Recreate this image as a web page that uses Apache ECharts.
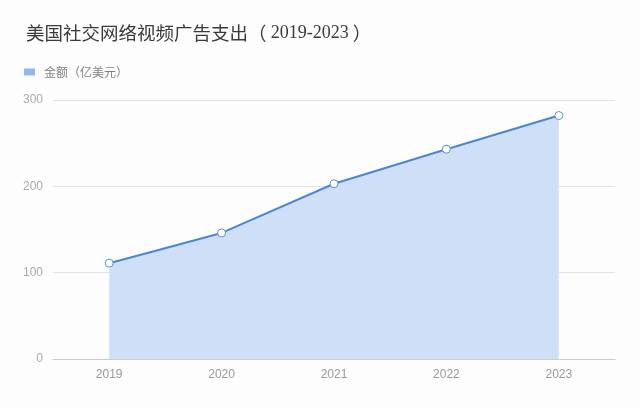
<!DOCTYPE html>
<html>
<head>
<meta charset="utf-8">
<script src="https://cdn.jsdelivr.net/npm/echarts@6/dist/echarts.min.js"></script>
<style>
  html, body { margin: 0; padding: 0; background: #fdfdfe; }
  #main { width: 640px; height: 408px; }
</style>
</head>
<body>
<div id="main"></div>
<script>
// 年份
const years = ['2019', '2020', '2021', '2022', '2023'];
// 金额（亿美元）
const spend = [111, 146, 203, 243, 282];
const seriesName = '金额（亿美元）';

const chart = echarts.init(document.getElementById('main'));

chart.setOption({
  backgroundColor: '#fdfdfe',
  title: {
    text: '{a|美国社交网络视频广告支出}{a|（ }{b|2019-2023}{a| ）}',
    left: 21,
    top: 19,
    textStyle: {
      fontWeight: 'normal',
      rich: {
        a: { fontFamily: 'Noto Sans CJK SC', fontSize: 18.5, fontWeight: 'normal', color: '#3a3a3a' },
        b: { fontFamily: 'Liberation Serif', fontSize: 18, fontWeight: 'normal', color: '#3a3a3a' }
      }
    }
  },
  legend: {
    left: 19,
    top: 61,
    itemWidth: 11,
    itemHeight: 7,
    itemGap: 8,
    icon: 'rect',
    itemStyle: { color: '#93b6ee', borderWidth: 0 },
    textStyle: { color: '#808080', fontSize: 12, fontFamily: 'Noto Sans CJK SC', padding: [0, 0, 0, 4] },
    data: [seriesName]
  },
  grid: { left: 53, right: 25, top: 100, bottom: 49 },
  xAxis: {
    type: 'category',
    data: years,
    boundaryGap: true,
    axisLine: { lineStyle: { color: '#ccc' } },
    axisTick: { alignWithLabel: true, length: 4, lineStyle: { color: '#ccc' } },
    axisLabel: { color: '#999', fontSize: 12, margin: 10 }
  },
  yAxis: {
    type: 'value',
    min: 0,
    max: 300,
    interval: 100,
    axisLine: { show: false },
    axisTick: { show: false },
    axisLabel: { color: '#aaa', fontSize: 12, margin: 10 },
    splitLine: { lineStyle: { color: '#e2e2e2' } }
  },
  series: [{
    name: seriesName,
    type: 'line',
    data: spend,
    symbol: 'circle',
    symbolSize: 8,
    itemStyle: { color: '#fff', borderColor: '#5b8fd6', borderWidth: 1 },
    lineStyle: { color: '#4a86d6', width: 2 },
    areaStyle: { color: '#d0dff8', opacity: 1 }
  }]
});
</script>
</body>
</html>
